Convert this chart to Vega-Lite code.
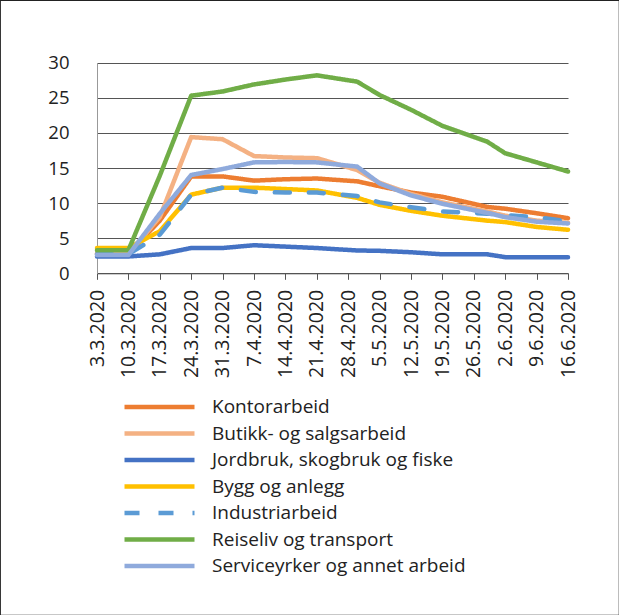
{
  "$schema": "https://vega.github.io/schema/vega-lite/v6.json",
  "width": 619,
  "height": 615,
  "autosize": {"type": "none"},
  "padding": 0,
  "background": "white",
  "config": {"view": {"stroke": "#222", "strokeWidth": 1.2}, "font": "Open Sans"},
  "data": {"values": [
    {"yrke": "Kontorarbeid", "dato": "2020-03-03", "verdi": 2.8},
    {"yrke": "Kontorarbeid", "dato": "2020-03-10", "verdi": 2.8},
    {"yrke": "Kontorarbeid", "dato": "2020-03-17", "verdi": 7.5},
    {"yrke": "Kontorarbeid", "dato": "2020-03-24", "verdi": 13.8},
    {"yrke": "Kontorarbeid", "dato": "2020-03-31", "verdi": 13.8},
    {"yrke": "Kontorarbeid", "dato": "2020-04-07", "verdi": 13.2},
    {"yrke": "Kontorarbeid", "dato": "2020-04-14", "verdi": 13.4},
    {"yrke": "Kontorarbeid", "dato": "2020-04-21", "verdi": 13.5},
    {"yrke": "Kontorarbeid", "dato": "2020-04-30", "verdi": 13.1},
    {"yrke": "Kontorarbeid", "dato": "2020-05-05", "verdi": 12.4},
    {"yrke": "Kontorarbeid", "dato": "2020-05-12", "verdi": 11.5},
    {"yrke": "Kontorarbeid", "dato": "2020-05-19", "verdi": 10.9},
    {"yrke": "Kontorarbeid", "dato": "2020-05-29", "verdi": 9.45},
    {"yrke": "Kontorarbeid", "dato": "2020-06-02", "verdi": 9.2},
    {"yrke": "Kontorarbeid", "dato": "2020-06-09", "verdi": 8.55},
    {"yrke": "Kontorarbeid", "dato": "2020-06-16", "verdi": 7.85},
    {"yrke": "Butikk- og salgsarbeid", "dato": "2020-03-03", "verdi": 2.8},
    {"yrke": "Butikk- og salgsarbeid", "dato": "2020-03-10", "verdi": 2.8},
    {"yrke": "Butikk- og salgsarbeid", "dato": "2020-03-17", "verdi": 8.0},
    {"yrke": "Butikk- og salgsarbeid", "dato": "2020-03-24", "verdi": 19.4},
    {"yrke": "Butikk- og salgsarbeid", "dato": "2020-03-31", "verdi": 19.1},
    {"yrke": "Butikk- og salgsarbeid", "dato": "2020-04-07", "verdi": 16.7},
    {"yrke": "Butikk- og salgsarbeid", "dato": "2020-04-14", "verdi": 16.5},
    {"yrke": "Butikk- og salgsarbeid", "dato": "2020-04-21", "verdi": 16.4},
    {"yrke": "Butikk- og salgsarbeid", "dato": "2020-04-30", "verdi": 14.7},
    {"yrke": "Butikk- og salgsarbeid", "dato": "2020-05-05", "verdi": 12.9},
    {"yrke": "Butikk- og salgsarbeid", "dato": "2020-05-12", "verdi": 11.3},
    {"yrke": "Butikk- og salgsarbeid", "dato": "2020-05-19", "verdi": 10.1},
    {"yrke": "Butikk- og salgsarbeid", "dato": "2020-05-29", "verdi": 8.8},
    {"yrke": "Butikk- og salgsarbeid", "dato": "2020-06-02", "verdi": 8.2},
    {"yrke": "Butikk- og salgsarbeid", "dato": "2020-06-09", "verdi": 7.5},
    {"yrke": "Butikk- og salgsarbeid", "dato": "2020-06-16", "verdi": 7.2},
    {"yrke": "Jordbruk, skogbruk og fiske", "dato": "2020-03-03", "verdi": 2.4},
    {"yrke": "Jordbruk, skogbruk og fiske", "dato": "2020-03-10", "verdi": 2.4},
    {"yrke": "Jordbruk, skogbruk og fiske", "dato": "2020-03-17", "verdi": 2.7},
    {"yrke": "Jordbruk, skogbruk og fiske", "dato": "2020-03-24", "verdi": 3.6},
    {"yrke": "Jordbruk, skogbruk og fiske", "dato": "2020-03-31", "verdi": 3.6},
    {"yrke": "Jordbruk, skogbruk og fiske", "dato": "2020-04-07", "verdi": 4.0},
    {"yrke": "Jordbruk, skogbruk og fiske", "dato": "2020-04-14", "verdi": 3.8},
    {"yrke": "Jordbruk, skogbruk og fiske", "dato": "2020-04-21", "verdi": 3.6},
    {"yrke": "Jordbruk, skogbruk og fiske", "dato": "2020-04-30", "verdi": 3.25},
    {"yrke": "Jordbruk, skogbruk og fiske", "dato": "2020-05-05", "verdi": 3.2},
    {"yrke": "Jordbruk, skogbruk og fiske", "dato": "2020-05-12", "verdi": 3.0},
    {"yrke": "Jordbruk, skogbruk og fiske", "dato": "2020-05-19", "verdi": 2.7},
    {"yrke": "Jordbruk, skogbruk og fiske", "dato": "2020-05-29", "verdi": 2.7},
    {"yrke": "Jordbruk, skogbruk og fiske", "dato": "2020-06-02", "verdi": 2.3},
    {"yrke": "Jordbruk, skogbruk og fiske", "dato": "2020-06-09", "verdi": 2.3},
    {"yrke": "Jordbruk, skogbruk og fiske", "dato": "2020-06-16", "verdi": 2.3},
    {"yrke": "Bygg og anlegg", "dato": "2020-03-03", "verdi": 3.6},
    {"yrke": "Bygg og anlegg", "dato": "2020-03-10", "verdi": 3.6},
    {"yrke": "Bygg og anlegg", "dato": "2020-03-17", "verdi": 6.0},
    {"yrke": "Bygg og anlegg", "dato": "2020-03-24", "verdi": 11.2},
    {"yrke": "Bygg og anlegg", "dato": "2020-03-31", "verdi": 12.2},
    {"yrke": "Bygg og anlegg", "dato": "2020-04-07", "verdi": 12.2},
    {"yrke": "Bygg og anlegg", "dato": "2020-04-14", "verdi": 12.0},
    {"yrke": "Bygg og anlegg", "dato": "2020-04-21", "verdi": 11.8},
    {"yrke": "Bygg og anlegg", "dato": "2020-04-30", "verdi": 10.75},
    {"yrke": "Bygg og anlegg", "dato": "2020-05-05", "verdi": 9.75},
    {"yrke": "Bygg og anlegg", "dato": "2020-05-12", "verdi": 8.9},
    {"yrke": "Bygg og anlegg", "dato": "2020-05-19", "verdi": 8.2},
    {"yrke": "Bygg og anlegg", "dato": "2020-05-29", "verdi": 7.5},
    {"yrke": "Bygg og anlegg", "dato": "2020-06-02", "verdi": 7.3},
    {"yrke": "Bygg og anlegg", "dato": "2020-06-09", "verdi": 6.6},
    {"yrke": "Bygg og anlegg", "dato": "2020-06-16", "verdi": 6.2},
    {"yrke": "Industriarbeid", "dato": "2020-03-03", "verdi": 2.7},
    {"yrke": "Industriarbeid", "dato": "2020-03-10", "verdi": 2.7},
    {"yrke": "Industriarbeid", "dato": "2020-03-17", "verdi": 5.5},
    {"yrke": "Industriarbeid", "dato": "2020-03-24", "verdi": 11.2},
    {"yrke": "Industriarbeid", "dato": "2020-03-31", "verdi": 12.2},
    {"yrke": "Industriarbeid", "dato": "2020-04-07", "verdi": 11.6},
    {"yrke": "Industriarbeid", "dato": "2020-04-14", "verdi": 11.5},
    {"yrke": "Industriarbeid", "dato": "2020-04-21", "verdi": 11.5},
    {"yrke": "Industriarbeid", "dato": "2020-04-30", "verdi": 11.0},
    {"yrke": "Industriarbeid", "dato": "2020-05-05", "verdi": 10.1},
    {"yrke": "Industriarbeid", "dato": "2020-05-12", "verdi": 9.4},
    {"yrke": "Industriarbeid", "dato": "2020-05-19", "verdi": 8.8},
    {"yrke": "Industriarbeid", "dato": "2020-05-29", "verdi": 8.5},
    {"yrke": "Industriarbeid", "dato": "2020-06-02", "verdi": 8.3},
    {"yrke": "Industriarbeid", "dato": "2020-06-09", "verdi": 8.0},
    {"yrke": "Industriarbeid", "dato": "2020-06-16", "verdi": 7.4},
    {"yrke": "Reiseliv og transport", "dato": "2020-03-03", "verdi": 3.3},
    {"yrke": "Reiseliv og transport", "dato": "2020-03-10", "verdi": 3.3},
    {"yrke": "Reiseliv og transport", "dato": "2020-03-17", "verdi": 13.9},
    {"yrke": "Reiseliv og transport", "dato": "2020-03-24", "verdi": 25.3},
    {"yrke": "Reiseliv og transport", "dato": "2020-03-31", "verdi": 25.9},
    {"yrke": "Reiseliv og transport", "dato": "2020-04-07", "verdi": 26.9},
    {"yrke": "Reiseliv og transport", "dato": "2020-04-14", "verdi": 27.6},
    {"yrke": "Reiseliv og transport", "dato": "2020-04-21", "verdi": 28.2},
    {"yrke": "Reiseliv og transport", "dato": "2020-04-30", "verdi": 27.3},
    {"yrke": "Reiseliv og transport", "dato": "2020-05-05", "verdi": 25.4},
    {"yrke": "Reiseliv og transport", "dato": "2020-05-12", "verdi": 23.3},
    {"yrke": "Reiseliv og transport", "dato": "2020-05-19", "verdi": 21.0},
    {"yrke": "Reiseliv og transport", "dato": "2020-05-29", "verdi": 18.75},
    {"yrke": "Reiseliv og transport", "dato": "2020-06-02", "verdi": 17.1},
    {"yrke": "Reiseliv og transport", "dato": "2020-06-09", "verdi": 15.8},
    {"yrke": "Reiseliv og transport", "dato": "2020-06-16", "verdi": 14.5},
    {"yrke": "Serviceyrker og annet arbeid", "dato": "2020-03-03", "verdi": 2.6},
    {"yrke": "Serviceyrker og annet arbeid", "dato": "2020-03-10", "verdi": 2.6},
    {"yrke": "Serviceyrker og annet arbeid", "dato": "2020-03-17", "verdi": 8.5},
    {"yrke": "Serviceyrker og annet arbeid", "dato": "2020-03-24", "verdi": 14.0},
    {"yrke": "Serviceyrker og annet arbeid", "dato": "2020-03-31", "verdi": 14.85},
    {"yrke": "Serviceyrker og annet arbeid", "dato": "2020-04-07", "verdi": 15.8},
    {"yrke": "Serviceyrker og annet arbeid", "dato": "2020-04-14", "verdi": 15.85},
    {"yrke": "Serviceyrker og annet arbeid", "dato": "2020-04-21", "verdi": 15.8},
    {"yrke": "Serviceyrker og annet arbeid", "dato": "2020-04-30", "verdi": 15.2},
    {"yrke": "Serviceyrker og annet arbeid", "dato": "2020-05-05", "verdi": 12.8},
    {"yrke": "Serviceyrker og annet arbeid", "dato": "2020-05-12", "verdi": 11.1},
    {"yrke": "Serviceyrker og annet arbeid", "dato": "2020-05-19", "verdi": 9.9},
    {"yrke": "Serviceyrker og annet arbeid", "dato": "2020-05-29", "verdi": 8.6},
    {"yrke": "Serviceyrker og annet arbeid", "dato": "2020-06-02", "verdi": 8.0},
    {"yrke": "Serviceyrker og annet arbeid", "dato": "2020-06-09", "verdi": 7.35},
    {"yrke": "Serviceyrker og annet arbeid", "dato": "2020-06-16", "verdi": 7.1}
  ]},
  "mark": {"type": "line", "strokeWidth": 4.5, "strokeCap": "round", "strokeJoin": "round"},
  "encoding": {
    "x": {
      "field": "dato", "type": "temporal",
      "scale": {"type": "utc", "domain": [{"year": 2020, "month": 3, "date": 3, "utc": true}, {"year": 2020, "month": 6, "date": 16, "utc": true}], "range": [97, 568]},
      "axis": {
        "title": null, "grid": false, "offset": -341.7,
        "values": [
          {"year": 2020, "month": 3, "date": 3, "utc": true},
          {"year": 2020, "month": 3, "date": 10, "utc": true},
          {"year": 2020, "month": 3, "date": 17, "utc": true},
          {"year": 2020, "month": 3, "date": 24, "utc": true},
          {"year": 2020, "month": 3, "date": 31, "utc": true},
          {"year": 2020, "month": 4, "date": 7, "utc": true},
          {"year": 2020, "month": 4, "date": 14, "utc": true},
          {"year": 2020, "month": 4, "date": 21, "utc": true},
          {"year": 2020, "month": 4, "date": 28, "utc": true},
          {"year": 2020, "month": 5, "date": 5, "utc": true},
          {"year": 2020, "month": 5, "date": 12, "utc": true},
          {"year": 2020, "month": 5, "date": 19, "utc": true},
          {"year": 2020, "month": 5, "date": 26, "utc": true},
          {"year": 2020, "month": 6, "date": 2, "utc": true},
          {"year": 2020, "month": 6, "date": 9, "utc": true},
          {"year": 2020, "month": 6, "date": 16, "utc": true}
        ],
        "format": "%-d.%-m.%Y",
        "labelAngle": -90, "labelAlign": "right", "labelBaseline": "middle",
        "labelFontSize": 19.5, "labelColor": "#222", "labelPadding": 10,
        "labelOverlap": false, "labelFlush": false, "labelBound": false,
        "tickSize": 6, "tickColor": "#555", "tickWidth": 1,
        "domainColor": "#555", "domainWidth": 1
      }
    },
    "y": {
      "field": "verdi", "type": "quantitative",
      "scale": {"domain": [0, 30], "range": [273.3, 62.7], "nice": false, "zero": true},
      "axis": {
        "title": null, "offset": -97,
        "values": [0, 5, 10, 15, 20, 25, 30],
        "grid": true, "gridColor": "#555", "gridWidth": 1,
        "domain": true, "domainColor": "#999", "domainWidth": 1,
        "ticks": false, "tickSize": 0,
        "labelFontSize": 18.5, "labelColor": "#222", "labelPadding": 28
      }
    },
    "color": {
      "field": "yrke", "type": "nominal", "sort": null,
      "scale": {
        "domain": ["Kontorarbeid", "Butikk- og salgsarbeid", "Jordbruk, skogbruk og fiske", "Bygg og anlegg", "Industriarbeid", "Reiseliv og transport", "Serviceyrker og annet arbeid"],
        "range": ["#ED7D31", "#F4B183", "#4472C4", "#FFC000", "#5B9BD5", "#70AD47", "#8FAADC"]
      },
      "legend": {
        "title": null, "orient": "none", "legendX": 150, "legendY": 397.5,
        "symbolType": "M-5,0H5", "symbolSize": 196, "symbolStrokeWidth": 4.5,
        "labelFontSize": 19, "labelColor": "#222", "labelOffset": 43, "labelLimit": 400, "rowPadding": 6.5
      }
    },
    "strokeDash": {
      "field": "yrke", "type": "nominal", "sort": null,
      "scale": {
        "domain": ["Kontorarbeid", "Butikk- og salgsarbeid", "Jordbruk, skogbruk og fiske", "Bygg og anlegg", "Industriarbeid", "Reiseliv og transport", "Serviceyrker og annet arbeid"],
        "range": [[1, 0], [1, 0], [1, 0], [1, 0], [15, 19], [1, 0], [1, 0]]
      },
      "legend": {
        "title": null, "orient": "none", "legendX": 150, "legendY": 397.5,
        "symbolType": "M-5,0H5", "symbolSize": 196, "symbolStrokeWidth": 4.5,
        "labelFontSize": 19, "labelColor": "#222", "labelOffset": 43, "labelLimit": 400, "rowPadding": 6.5
      }
    }
  }
}
